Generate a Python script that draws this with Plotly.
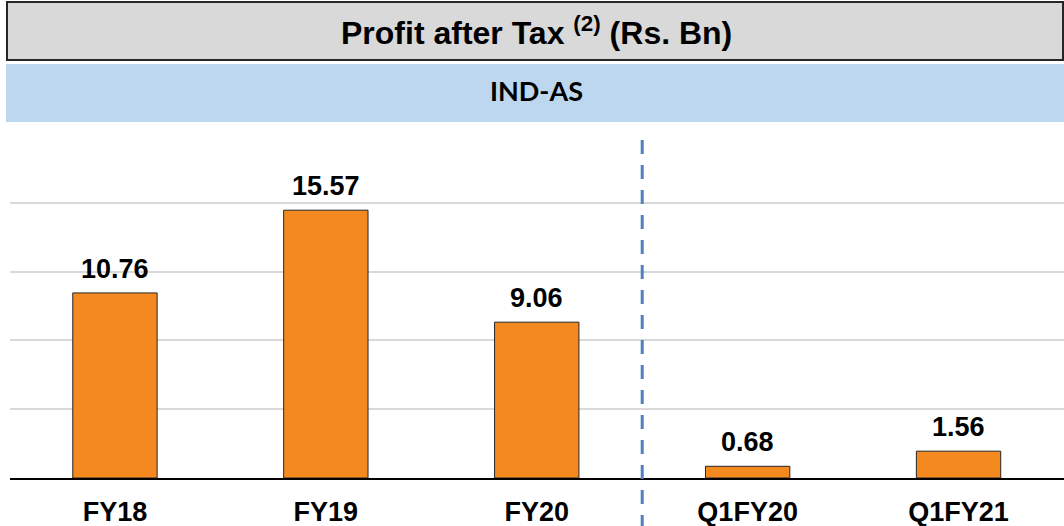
import plotly.graph_objects as go

categories = ["FY18", "FY19", "FY20", "Q1FY20", "Q1FY21"]
values = [10.76, 15.57, 9.06, 0.68, 1.56]
value_labels = ["10.76", "15.57", "9.06", "0.68", "1.56"]
title_text = "<b>Profit after Tax <sup>(2)</sup> (Rs. Bn)</b>"
band_text = "<b>IND-AS</b>"

W, H = 1064, 526
def px_x(p):
    return p / W
def px_y(p):
    return 1 - p / H

fig = go.Figure()
fig.add_trace(go.Bar(
    x=categories, y=values,
    marker=dict(color="#F48A1F", line=dict(color="#262626", width=1)),
    width=0.4,
    hoverinfo="skip",
))

annotations = []
for c, v, t in zip(categories, values, value_labels):
    annotations.append(dict(
        x=c, y=v, xref="x", yref="y", text=f"<b>{t}</b>", showarrow=False,
        yanchor="bottom", yshift=7,
        font=dict(family="Liberation Sans, Arial", size=27, color="#000000"),
    ))
annotations.append(dict(
    x=px_x(536), y=px_y(31), xref="paper", yref="paper", text=title_text,
    showarrow=False, xanchor="center", yanchor="middle",
    font=dict(family="Liberation Sans, Arial", size=32, color="#000000"),
))
annotations.append(dict(
    x=px_x(536), y=px_y(91), xref="paper", yref="paper", text=band_text,
    showarrow=False, xanchor="center", yanchor="middle",
    font=dict(family="Lato, Carlito, sans-serif", size=27, color="#000000"),
))

shapes = [
    dict(type="rect", xref="paper", yref="paper",
         x0=px_x(7), x1=px_x(1063), y0=px_y(60), y1=px_y(2),
         fillcolor="#D9D9D9", line=dict(color="#262626", width=2), layer="below"),
    dict(type="rect", xref="paper", yref="paper",
         x0=px_x(6), x1=px_x(1064), y0=px_y(122), y1=px_y(64),
         fillcolor="#BDD7EE", line=dict(width=0), layer="below"),
    dict(type="line", xref="x", yref="paper",
         x0=2.5, x1=2.5, y0=px_y(140), y1=0,
         line=dict(color="#4F81BD", width=3, dash="14px,11px")),
]

fig.update_layout(
    width=W, height=H,
    margin=dict(l=0, r=0, t=0, b=0),
    plot_bgcolor="white", paper_bgcolor="white",
    showlegend=False,
    annotations=annotations,
    shapes=shapes,
    bargap=0.6,
    xaxis=dict(
        domain=[px_x(9.5), 1.0],
        showline=True, linecolor="#000000", linewidth=1.5,
        showgrid=False, ticks="outside", ticklen=9, tickcolor="rgba(0,0,0,0)",
        tickfont=dict(family="Liberation Sans, Arial", size=27, color="#000000"),
        tickprefix="<b>", ticksuffix="</b>",
        automargin=False, fixedrange=True,
    ),
    yaxis=dict(
        domain=[(H - 478) / H, (H - 134) / H],
        range=[0, 20], tickvals=[0, 4, 8, 12, 16, 20],
        showticklabels=False, showgrid=True, gridcolor="#D9D9D9", gridwidth=1.5,
        zeroline=False, automargin=False, fixedrange=True,
    ),
)

fig.write_html(
    "out.html",
    config={"displayModeBar": False},
    post_script="document.body.style.margin='0';document.body.style.overflow='hidden';",
)
